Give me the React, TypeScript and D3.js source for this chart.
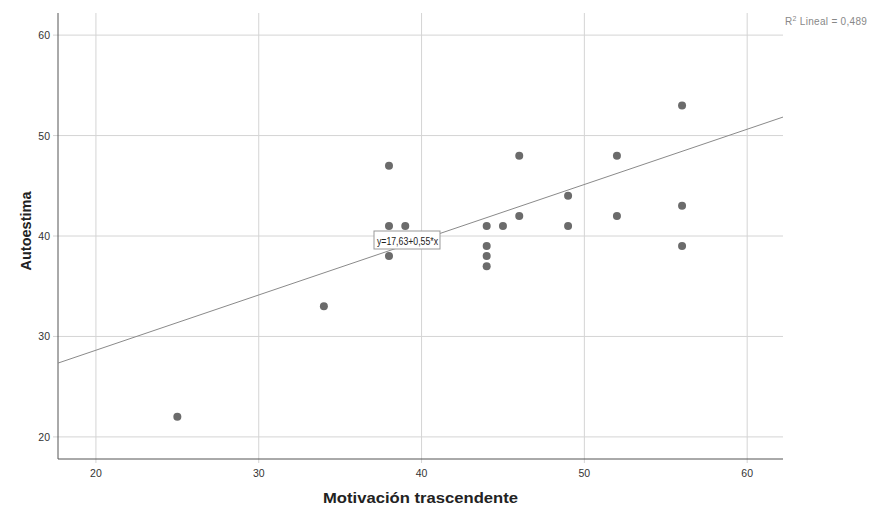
import React from "react";
import * as d3 from "d3";

const xValues = [25, 34, 38, 38, 38, 39, 44, 44, 44, 44, 45, 46, 46, 49, 49, 52, 52, 56, 56, 56];
const yValues = [22, 33, 47, 41, 38, 41, 41, 39, 38, 37, 41, 48, 42, 44, 41, 48, 42, 53, 43, 39];
const xTicks = [20, 30, 40, 50, 60];
const yTicks = [20, 30, 40, 50, 60];
const intercept = 17.63;
const slope = 0.55;
const equationLabel = "y=17,63+0,55*x";
const r2Label = "0,489";

export default function App() {
  const W = 871, H = 512;
  const left = 58, right = 783, top = 13, bottom = 459;
  const x = d3.scaleLinear().domain([17.67, 62.2]).range([left, right]);
  const y = d3.scaleLinear().domain([17.8, 62.2]).range([bottom, top]);
  const x0 = x.domain()[0], x1 = x.domain()[1];
  const line = d3.line<number>().x((d) => x(d)).y((d) => y(intercept + slope * d));
  const font = "'Liberation Sans', Arial, sans-serif";
  return (
    <svg width={W} height={H} style={{ position: "absolute", left: 0, top: 0 }} fontFamily={font}>
      <rect width={W} height={H} fill="#fff" />
      {xTicks.map((t) => (
        <g key={"x" + t}>
          <line x1={x(t)} x2={x(t)} y1={top} y2={bottom + 4} stroke="#d4d4d4" strokeWidth={1} />
          <text x={x(t)} y={bottom + 18} textAnchor="middle" fontSize={10.5} fill="#333">{t}</text>
        </g>
      ))}
      {yTicks.map((t) => (
        <g key={"y" + t}>
          <line x1={left - 5} x2={right} y1={y(t)} y2={y(t)} stroke="#d4d4d4" strokeWidth={1} />
          <text x={left - 8} y={y(t) + 4} textAnchor="end" fontSize={10.5} fill="#333">{t}</text>
        </g>
      ))}
      <line x1={left} x2={left} y1={top} y2={bottom} stroke="#555" strokeWidth={1} />
      <line x1={left} x2={right} y1={bottom} y2={bottom} stroke="#555" strokeWidth={1} />
      <path d={line([x0, x1]) || ""} stroke="#8a8a8a" strokeWidth={1} fill="none" />
      {xValues.map((v, i) => (
        <circle key={i} cx={x(v)} cy={y(yValues[i])} r={4} fill="#6b6b6b" />
      ))}
      <g>
        <rect x={374} y={231} width={66} height={18} fill="#fff" stroke="#999" strokeWidth={1} />
        <text x={377} y={244.5} fontSize={11} fill="#222" textLength={61} lengthAdjust="spacingAndGlyphs">{equationLabel}</text>
      </g>
      <text x={785} y={25} fontSize={10} fill="#888" letterSpacing={0.3}>
        R<tspan dy={-4} fontSize={7}>2</tspan><tspan dy={4}> Lineal = {r2Label}</tspan>
      </text>
      <text transform={`translate(31, 231) rotate(-90)`} textAnchor="middle" fontSize={14.5} fontWeight="bold" fill="#222">Autoestima</text>
      <text x={(left + right) / 2} y={503} textAnchor="middle" fontSize={15} fontWeight="bold" fill="#222" textLength={195} lengthAdjust="spacingAndGlyphs">Motivación trascendente</text>
    </svg>
  );
}
